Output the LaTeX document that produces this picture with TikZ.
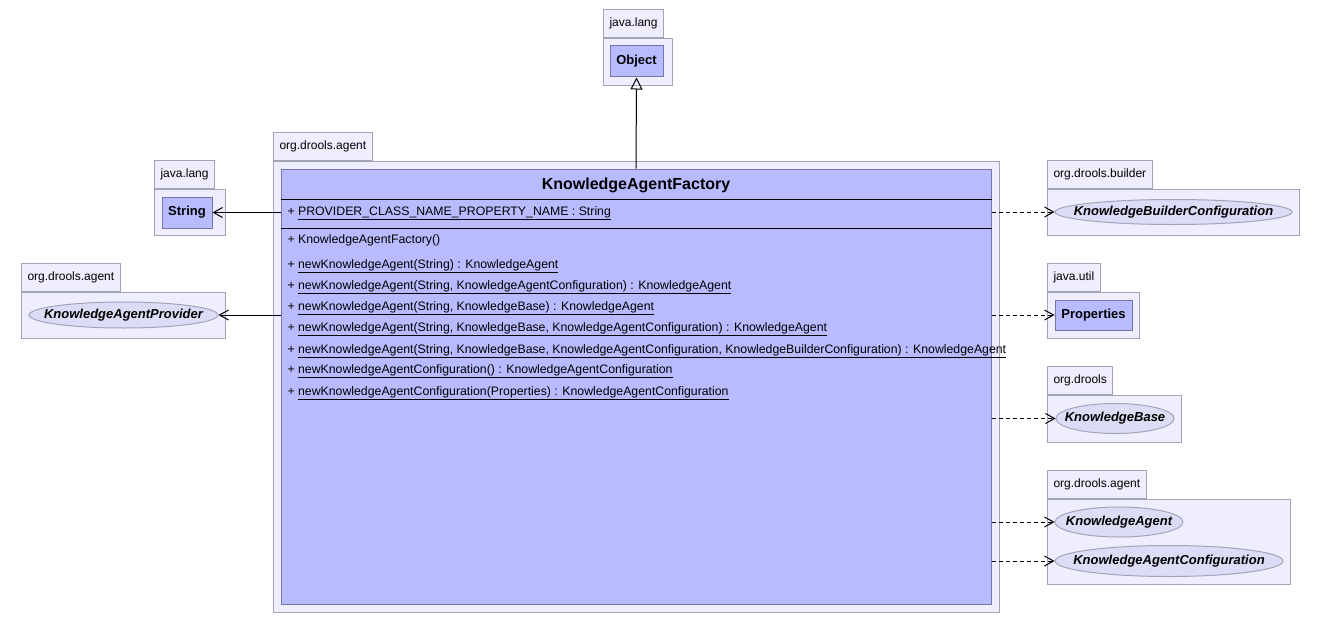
\documentclass[tikz,border=0pt]{standalone}
\usepackage{fontspec}
\setmainfont{Liberation Sans}
\usetikzlibrary{arrows.meta,positioning,shapes.geometric}
\definecolor{pkgfill}{RGB}{238,238,254}
\definecolor{pkgline}{RGB}{164,164,184}
\definecolor{clsfill}{RGB}{184,187,255}
\definecolor{clsline}{RGB}{118,118,168}
\definecolor{ovfill}{RGB}{220,220,246}

\begin{document}
\begin{tikzpicture}[x=1pt,y=-1pt,line width=1pt,
  pkgbody/.style={draw=pkgline,fill=pkgfill,anchor=north west,inner sep=0pt},
  pkgtab/.style={draw=pkgline,fill=pkgfill,anchor=south west,inner xsep=6pt,inner ysep=0pt,
    minimum height=28pt,font=\fontsize{12}{14}\selectfont},
  clsbox/.style={draw=clsline,fill=clsfill,inner sep=0pt,font=\bfseries\fontsize{13}{15}\selectfont},
  ifoval/.style={ellipse,draw=pkgline,fill=ovfill,inner sep=0pt},
  ovtext/.style={inner sep=0pt,font=\bfseries\itshape\fontsize{13}{15}\selectfont},
  member/.style={anchor=west,inner sep=0pt,font=\fontsize{12.3}{14}\selectfont},
  uses/.style={dashed,dash pattern=on 4pt off 3pt,-{Straight Barb[length=9pt,width=10pt]}},
  assoc/.style={-{Straight Barb[length=9pt,width=10pt]}}]
 \useasboundingbox[fill=white] (0,0) rectangle (1324,623);

 % java.lang / Object
 \node[pkgbody,minimum width=69pt,minimum height=47pt] (pobject) at (603,38) {};
 \node[pkgtab] at (pobject.north west) {java.lang};
 \node[clsbox,minimum width=53pt,minimum height=31pt] (object) at (636.5,61.5) {Object};

 % java.lang / String
 \node[pkgbody,minimum width=71pt,minimum height=46pt] (pstring) at (154,189) {};
 \node[pkgtab] at (pstring.north west) {java.lang};
 \node[clsbox,minimum width=50pt,minimum height=31pt] (string) at (187,212.5) {String};

 % org.drools.agent / KnowledgeAgentProvider
 \node[pkgbody,minimum width=204pt,minimum height=46pt] (pprovider) at (21,292) {};
 \node[pkgtab] at (pprovider.north west) {org.drools.agent};
 \node[ifoval,minimum width=189pt,minimum height=26pt,
   label={[ovtext]center:KnowledgeAgentProvider}] (provider) at (123.5,315) {};

 % org.drools.agent / KnowledgeAgentFactory
 \node[pkgbody,minimum width=726pt,minimum height=451pt] (pfactory) at (273,161) {};
 \node[pkgtab] at (pfactory.north west) {org.drools.agent};
 \node[clsbox,minimum width=710pt,minimum height=435pt] (factory) at (636,386.5) {};
 \node[font=\bfseries\fontsize{16}{18}\selectfont] (title) at (636,185) {KnowledgeAgentFactory};
 \draw (factory.west |- 0,199) -- (factory.east |- 0,199);
 \draw (factory.west |- 0,228) -- (factory.east |- 0,228);
 \node[member] (attr) at (287,213) {+ \underline{PROVIDER\_CLASS\_NAME\_PROPERTY\_NAME : String}};
 \node[member] (ctor) at (287,240) {+ KnowledgeAgentFactory()};
 \foreach \yy/\sig in {266/{newKnowledgeAgent(String) : KnowledgeAgent},
   287/{newKnowledgeAgent(String, KnowledgeAgentConfiguration) : KnowledgeAgent},
   308/{newKnowledgeAgent(String, KnowledgeBase) : KnowledgeAgent},
   329/{newKnowledgeAgent(String, KnowledgeBase, KnowledgeAgentConfiguration) : KnowledgeAgent},
   351/{newKnowledgeAgent(String, KnowledgeBase, KnowledgeAgentConfiguration, KnowledgeBuilderConfiguration) : KnowledgeAgent},
   371/{newKnowledgeAgentConfiguration() : KnowledgeAgentConfiguration},
   393/{newKnowledgeAgentConfiguration(Properties) : KnowledgeAgentConfiguration}}{
   \node[member] at (287,\yy) {+ \underline{\sig}};
 }

 % org.drools.builder / KnowledgeBuilderConfiguration
 \node[pkgbody,minimum width=252pt,minimum height=46pt] (pbuilder) at (1047,189) {};
 \node[pkgtab] at (pbuilder.north west) {org.drools.builder};
 \node[ifoval,minimum width=237pt,minimum height=25pt,
   label={[ovtext]center:KnowledgeBuilderConfiguration}] (builder) at (1173.5,212) {};

 % java.util / Properties
 \node[pkgbody,minimum width=92pt,minimum height=46pt] (pprops) at (1047,292) {};
 \node[pkgtab] at (pprops.north west) {java.util};
 \node[clsbox,minimum width=77pt,minimum height=30pt] (props) at (1093.5,315) {Properties};

 % org.drools / KnowledgeBase
 \node[pkgbody,minimum width=134pt,minimum height=47pt] (pbase) at (1047,395) {};
 \node[pkgtab] at (pbase.north west) {org.drools};
 \node[ifoval,minimum width=118pt,minimum height=30pt,
   label={[ovtext]center:KnowledgeBase}] (kbase) at (1115,418.5) {};

 % org.drools.agent / KnowledgeAgent, KnowledgeAgentConfiguration
 \node[pkgbody,minimum width=243pt,minimum height=85pt] (pagent) at (1047,499) {};
 \node[pkgtab] at (pagent.north west) {org.drools.agent};
 \node[ifoval,minimum width=128pt,minimum height=30pt,
   label={[ovtext]center:KnowledgeAgent}] (kagent) at (1119,522) {};
 \node[ifoval,minimum width=228pt,minimum height=31pt,
   label={[ovtext]center:KnowledgeAgentConfiguration}] (kconf) at (1169,561) {};

 % connectors
 \draw[-{Triangle[open,length=12pt,width=12pt]}] (factory.north) -- (object.south);
 \draw[assoc] (factory.west |- string) -- (string.east);
 \draw[assoc] (factory.west |- provider) -- (provider.east);
 \draw[uses] (factory.east |- builder) -- (builder.west);
 \draw[uses] (factory.east |- props) -- (props.west);
 \draw[uses] (factory.east |- kbase) -- (kbase.west);
 \draw[uses] (factory.east |- kagent) -- (kagent.west);
 \draw[uses] (factory.east |- kconf) -- (kconf.west);
\end{tikzpicture}
\end{document}
